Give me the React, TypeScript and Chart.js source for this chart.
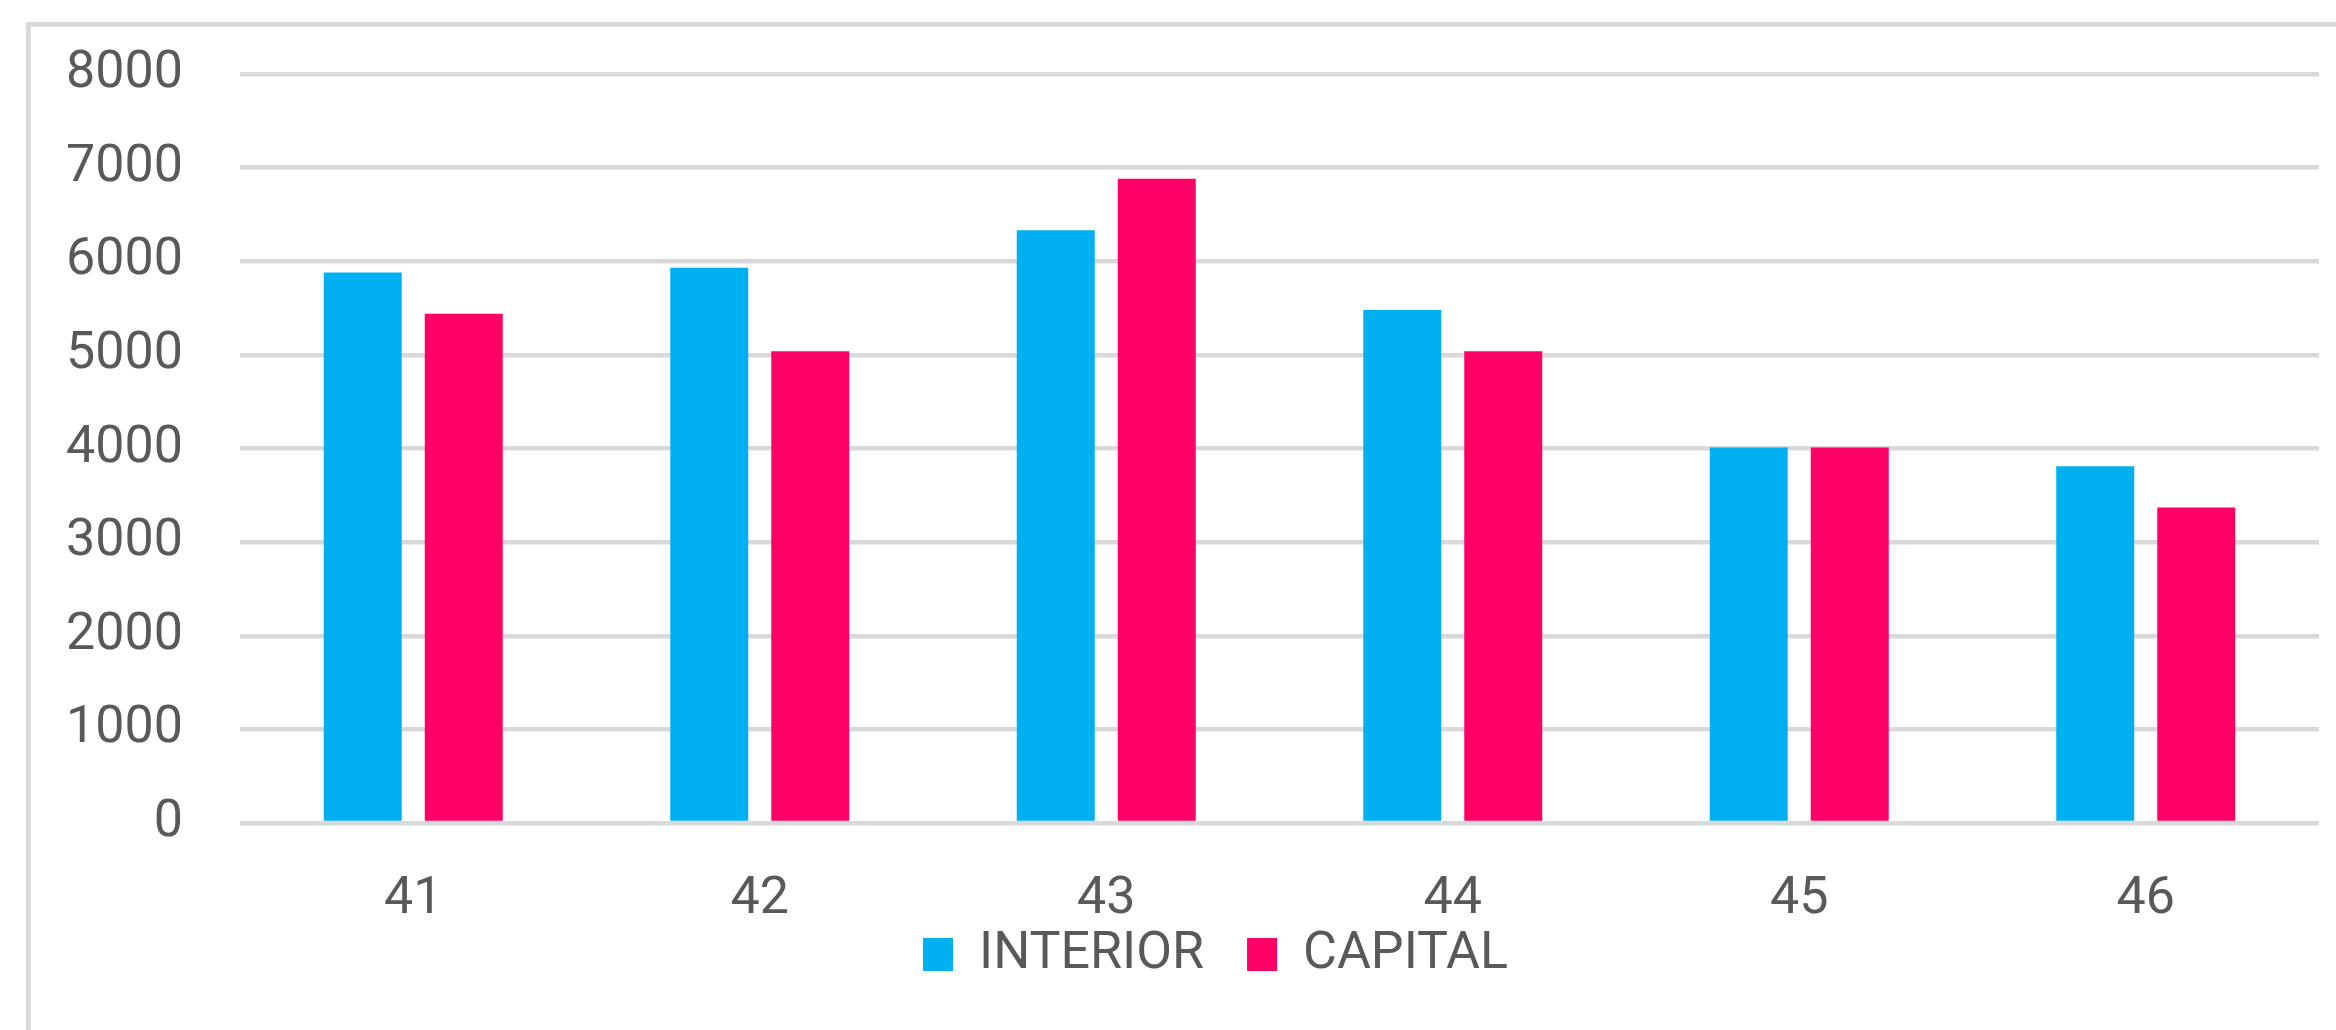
import React, { useEffect, useRef } from "react";
import { Chart, registerables } from "chart.js";

Chart.register(...registerables);

const categories = ["41", "42", "43", "44", "45", "46"];
const interiorValues = [5880, 5930, 6330, 5480, 4010, 3810];
const capitalValues = [5440, 5040, 6880, 5040, 4010, 3370];
const seriesNames = ["INTERIOR", "CAPITAL"];
const yMin = 0;
const yMax = 8000;
const yStep = 1000;

const BLUE = "#00B0F0";
const PINK = "#FF0066";
const TEXT = "#595959";
const GRID = "#D9D9D9";
const FONT = "Roboto";

const outerBorder = {
  id: "outerBorder",
  beforeDraw(chart: any) {
    const { ctx } = chart;
    ctx.save();
    ctx.strokeStyle = GRID;
    ctx.lineWidth = 4.7;
    ctx.strokeRect(28.3, 24.4, 2400, 1100);
    ctx.restore();
  },
};

// place the legend box like the reference (centred on the whole chart object, close under the axis labels)
const legendPlacement = {
  id: "legendPlacement",
  afterLayout(chart: any) {
    const lg = chart.legend;
    if (!lg) return;
    const h = lg.height;
    lg.left = 112;
    lg.right = 2319;
    lg.top = 885.5;
    lg.bottom = lg.top + h;
  },
};

export default function App() {
  const ref = useRef<HTMLCanvasElement | null>(null);

  useEffect(() => {
    if (!ref.current) return;
    const chart = new Chart(ref.current, {
      type: "bar",
      data: {
        labels: categories,
        datasets: [
          {
            label: seriesNames[0],
            data: interiorValues,
            backgroundColor: BLUE,
            borderWidth: 0,
            categoryPercentage: 0.583,
            barPercentage: 0.772,
          },
          {
            label: seriesNames[1],
            data: capitalValues,
            backgroundColor: PINK,
            borderWidth: 0,
            categoryPercentage: 0.583,
            barPercentage: 0.772,
          },
        ],
      },
      options: {
        animation: false,
        responsive: true,
        maintainAspectRatio: false,
        layout: { padding: { left: 60, right: 17, top: 74, bottom: 1.5 } },
        plugins: {
          tooltip: { enabled: false },
          legend: {
            position: "bottom",
            align: "center",
            labels: {
              boxWidth: 30,
              boxHeight: 33,
              padding: 43,
              color: TEXT,
              font: { family: FONT, size: 52 },
            },
          },
        },
        scales: {
          x: {
            grid: { display: false, drawTicks: false },
            border: { display: false },
            ticks: {
              color: TEXT,
              font: { family: FONT, size: 52, lineHeight: 1.0 },
              padding: 51,
              maxRotation: 0,
            },
            afterFit: (scale: any) => {
              scale.height = 100.5;
            },
          },
          y: {
            min: yMin,
            max: yMax,
            grid: { color: GRID, lineWidth: 4.5, drawTicks: false },
            border: { display: false },
            ticks: {
              stepSize: yStep,
              color: TEXT,
              font: { family: FONT, size: 52, lineHeight: 0.5 },
              padding: 57,
              labelOffset: 0,
              callback: (value: any) => String(value),
            },
            afterFit: (scale: any) => {
              scale.width = 180;
            },
          },
        },
      },
      plugins: [outerBorder, legendPlacement],
    });
    return () => chart.destroy();
  }, []);

  return (
    <div
      style={{
        position: "fixed",
        left: 0,
        top: 0,
        width: 2336,
        height: 1030,
        background: "#ffffff",
      }}
    >
      <canvas ref={ref} style={{ display: "block" }} />
    </div>
  );
}
